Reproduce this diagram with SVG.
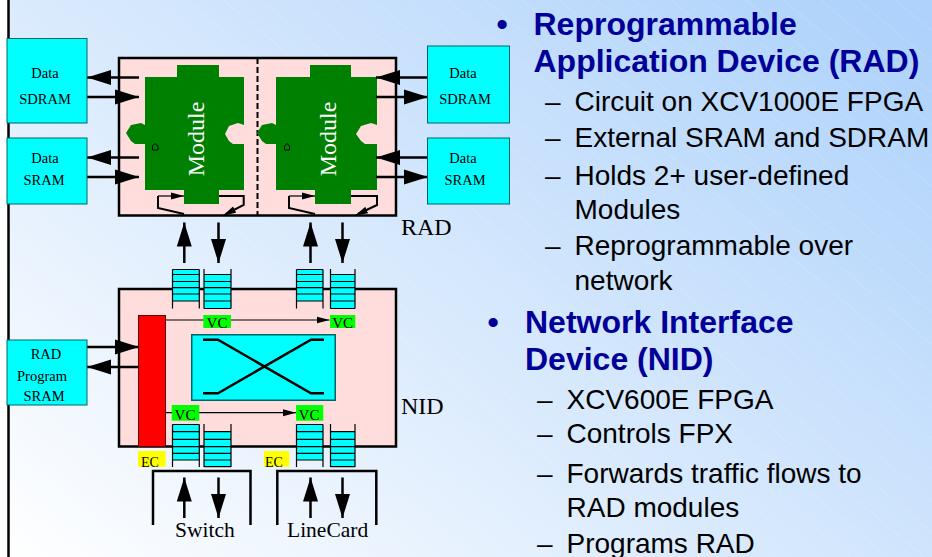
<svg xmlns="http://www.w3.org/2000/svg" width="932" height="557" viewBox="0 0 932 557">
<defs>
<linearGradient id="bg" gradientUnits="userSpaceOnUse" x1="0" y1="557" x2="607" y2="-214"><stop offset="0" stop-color="#ffffff"/><stop offset="1" stop-color="#aed2fb"/></linearGradient>
<pattern id="stripes" patternUnits="userSpaceOnUse" width="24" height="24" patternTransform="rotate(40)"><path d="M0 0H24" stroke="#ffffff" stroke-width="1" opacity="0.22"/></pattern>
<marker id="big" markerUnits="userSpaceOnUse" markerWidth="24" markerHeight="16" refX="24" refY="8" orient="auto"><path d="M0 0.500L24 8L0 15.500Z" fill="#000"/></marker>
<marker id="small" markerUnits="userSpaceOnUse" markerWidth="13" markerHeight="8" refX="13" refY="4" orient="auto"><path d="M0 0.500L13 4L0 7.500Z" fill="#000"/></marker>
</defs>
<style>
.box{fill:#00ffff;stroke:#006666;stroke-width:1}
.lbl{font-family:"Liberation Serif",serif;font-size:14.500px;fill:#000;text-anchor:middle}
.cap{font-family:"Liberation Serif",serif;font-size:24px;fill:#000}
.cap2{font-family:"Liberation Serif",serif;font-size:21.500px;fill:#000}
.tag{font-family:"Liberation Serif",serif;font-size:15px;fill:#000;text-anchor:middle}
.mod{fill:#008000}
.modt{font-family:"Liberation Serif",serif;font-size:24px;fill:#ffffff;text-anchor:middle}
.arr{stroke:#000;stroke-width:2.500;fill:none;marker-end:url(#big)}
.thin{stroke:#000;stroke-width:1.200;fill:none;marker-end:url(#small)}
.ln{stroke:#000;stroke-width:2;fill:none}
.qln{stroke:#000;stroke-width:1.200;fill:none}
.xl{stroke:#000;stroke-width:2.500;fill:none}
.thick{stroke:#000;stroke-width:2.500;fill:none}
.h1{font-family:"Liberation Sans",sans-serif;font-size:32px;font-weight:bold;fill:#000099}
.h2{font-family:"Liberation Sans",sans-serif;font-size:28px;fill:#000000}
.q{fill:#00ffff;stroke:none}
.ic{fill:none;stroke:#000;stroke-width:1}
</style>
<rect width="932" height="557" fill="url(#bg)"/>
<rect width="932" height="557" fill="url(#stripes)"/>
<rect width="8" height="557" fill="#ffffff"/>
<path d="M8.500 0V557" stroke="#000" stroke-width="2.500"/>

<g id="rad">
<rect x="119" y="58" width="277" height="157.500" fill="#ffdddd" stroke="#000" stroke-width="2.500"/>
<path d="M257.500 58V215" stroke="#000" stroke-width="2" stroke-dasharray="6 3"/>
</g>
<g id="module-1">
<path class="mod" d="M177 65H219V77H244V125L238 123L229 126L225 134L229 141L233 144H244V190H219V204H184V190H145V144H135L131 141L126 133L131 125L141 123L145 125V77H177Z"/>
<text class="modt" transform="translate(204 139) rotate(-90)">Module</text>
<path class="ic" d="M152.500 150V146L155 143.500L158 146V150Z"/>
</g>
<g id="module-2">
<path class="mod" d="M310 65H351V77H377V125L371 123L361 126L356 134L361 141L365 144H377V190H351V204H315V190H276V144H266L262 141L257 133L262 125L272 123L276 125V77H310Z"/>
<text class="modt" transform="translate(336 139) rotate(-90)">Module</text>
<path class="ic" d="M284.500 150V146L287 143.500L289.500 146V150Z"/>
</g>
<g id="nid">
<rect x="119" y="289" width="277" height="157.500" fill="#ffdddd" stroke="#000" stroke-width="2.500"/>
</g>
<g id="ec-bar"><rect x="138.500" y="315.500" width="27" height="131" fill="#ff0000" stroke="#660000"/></g>
<g id="crossbar">
<rect x="191.750" y="334.750" width="143.500" height="65.500" fill="#00ffff" stroke="#006666" stroke-width="1.500"/>
<path class="xl" d="M203 339.700H218L311 393.300H324M203 393.300H218L311 339.700H324"/>
</g>

<g id="connectors">
<path class="arr" d="M139 77.500H87"/><path class="arr" d="M87 97H139"/>
<path class="arr" d="M139 157.500H87"/><path class="arr" d="M87 177H139"/>
<path class="arr" d="M428 77.500H376"/><path class="arr" d="M376 97H428"/>
<path class="arr" d="M428 157.500H376"/><path class="arr" d="M376 177H428"/>
<path class="arr" d="M184.300 263V222.500"/><path class="arr" d="M218.500 222.500V263"/>
<path class="arr" d="M310.500 263V222.500"/><path class="arr" d="M342.500 222.500V263"/>
<path class="arr" d="M87 347H139"/><path class="arr" d="M139 367H87"/>
<path class="arr" d="M184.300 518V477.500"/><path class="arr" d="M218.500 477.500V518"/>
<path class="arr" d="M310.500 518V477.500"/><path class="arr" d="M342.500 477.500V518"/>
<path class="thin" d="M165 320H329.500"/>
<path class="thin" d="M165 412.700H296"/>
<path class="ln" d="M184 214L158 208V196"/><path class="thin" d="M158 196H184"/>
<path class="ln" d="M219 196H243.700V205L226 214"/><path class="thin" d="M236 209L223 215.500"/>
<path class="ln" d="M315 214L289 208V196"/><path class="thin" d="M289 196H315"/>
<path class="ln" d="M351 196H377V205L358 214"/><path class="thin" d="M369 209L355 215.500"/>
</g>

<g id="sdram-left"><rect class="box" x="7" y="38.500" width="80" height="84.500"/><text class="lbl" x="45" y="78">Data</text><text class="lbl" x="45" y="104">SDRAM</text></g>
<g id="sram-left"><rect class="box" x="7" y="138" width="80" height="66"/><text class="lbl" x="45" y="163">Data</text><text class="lbl" x="44" y="185">SRAM</text></g>
<g id="sdram-right"><rect class="box" x="427.500" y="46" width="82" height="77"/><text class="lbl" x="463" y="78">Data</text><text class="lbl" x="465" y="104">SDRAM</text></g>
<g id="sram-right"><rect class="box" x="427.500" y="138" width="82" height="66"/><text class="lbl" x="463" y="163">Data</text><text class="lbl" x="465" y="185">SRAM</text></g>
<text class="cap" x="401" y="235">RAD</text>

<g id="queues">
<path class="q" d="M172.500 269.500H199.300V301H172.500Z"/><path class="qln" d="M172.500 269.500H199.300M172.500 274.500H199.300M172.500 281.500H199.300M172.500 287.700H199.300M172.500 294H199.300M172.500 301H199.300M172.500 269.500V308.500M199.300 269.500V308.500"/>
<path class="q" d="M204 274.500H231V308.500H204Z"/><path class="qln" d="M204 269V308.500M231 269V308.500M204 274.500H231M204 281.500H231M204 287.700H231M204 294H231M204 301H231M204 308.500H231"/>
<path class="q" d="M296.500 269.500H323V301H296.500Z"/><path class="qln" d="M296.500 269.500H323M296.500 274.500H323M296.500 281.500H323M296.500 287.700H323M296.500 294H323M296.500 301H323M296.500 269.500V308.500M323 269.500V308.500"/>
<path class="q" d="M330.500 274.500H355V308.500H330.500Z"/><path class="qln" d="M330.500 269V308.500M355 269V308.500M330.500 274.500H355M330.500 281.500H355M330.500 287.700H355M330.500 294H355M330.500 301H355M330.500 308.500H355"/>
<path class="q" d="M172.500 424.500H199.300V460H172.500Z"/><path class="qln" d="M172.500 424.500V467M199.300 424.500V467M172.500 424.500H199.300M172.500 431.700H199.300M172.500 439.300H199.300M172.500 446.700H199.300M172.500 453.300H199.300M172.500 460H199.300"/>
<path class="q" d="M204 431.700H231V466.700H204Z"/><path class="qln" d="M204 424V467M231 424V467M204 431.700H231M204 439.300H231M204 446.700H231M204 453.300H231M204 460H231M204 466.700H231"/>
<path class="q" d="M296.500 424.500H323V460H296.500Z"/><path class="qln" d="M296.500 424.500V467M323 424.500V467M296.500 424.500H323M296.500 431.700H323M296.500 439.300H323M296.500 446.700H323M296.500 453.300H323M296.500 460H323"/>
<path class="q" d="M330.500 431.700H355V466.700H330.500Z"/><path class="qln" d="M330.500 424V467M355 424V467M330.500 431.700H355M330.500 439.300H355M330.500 446.700H355M330.500 453.300H355M330.500 460H355M330.500 466.700H355"/>
</g>
<g id="vc-tags">
<rect x="203.300" y="315" width="27.700" height="13" fill="#00ff00"/><text class="tag" x="217" y="327.500">VC</text>
<rect x="330" y="315" width="25.300" height="13" fill="#00ff00"/><text class="tag" x="342.700" y="327.500">VC</text>
<rect x="171.700" y="405" width="27.600" height="15.700" fill="#00ff00"/><text class="tag" x="185" y="420">VC</text>
<rect x="296" y="405" width="27.300" height="15.700" fill="#00ff00"/><text class="tag" x="309" y="420">VC</text>
</g>
<g id="ec-tags">
<rect x="138" y="451" width="27.700" height="15.700" fill="#ffff00"/><text class="tag" style="font-size:14px" x="150" y="466.500">EC</text>
<rect x="264" y="451" width="25.300" height="15.700" fill="#ffff00"/><text class="tag" style="font-size:14px" x="274" y="466.500">EC</text>
</g>
<g id="program-sram"><rect class="box" x="7" y="340" width="80" height="65"/><text class="lbl" x="46" y="359">RAD</text><text class="lbl" x="42" y="381">Program</text><text class="lbl" x="44" y="401">SRAM</text></g>
<text class="cap" x="401" y="414">NID</text>

<g id="brackets">
<path class="thick" d="M153 525V471H250.500V525M277.300 525V471H376.300V525"/>
</g>
<text class="cap2" x="175" y="537">Switch</text>
<text class="cap2" x="287" y="537">LineCard</text>

<g id="bullets">
<text class="h1" x="496.500" y="35">•</text>
<text class="h1" x="533.500" y="35">Reprogrammable</text>
<text class="h1" x="533.500" y="72">Application Device (RAD)</text>
<text class="h2" x="545" y="111">–</text><text class="h2" x="574.500" y="111">Circuit on XCV1000E FPGA</text>
<text class="h2" x="545" y="147">–</text><text class="h2" x="574.500" y="147">External SRAM and SDRAM</text>
<text class="h2" x="545" y="185">–</text><text class="h2" x="574.500" y="185">Holds 2+ user-defined</text>
<text class="h2" x="574.500" y="219">Modules</text>
<text class="h2" x="545" y="255">–</text><text class="h2" x="574.500" y="255">Reprogrammable over</text>
<text class="h2" x="574.500" y="290">network</text>
<text class="h1" x="487.500" y="333">•</text>
<text class="h1" x="525" y="333">Network Interface</text>
<text class="h1" x="525" y="370">Device (NID)</text>
<text class="h2" x="537" y="409">–</text><text class="h2" x="566.500" y="409">XCV600E FPGA</text>
<text class="h2" x="537" y="443">–</text><text class="h2" x="566.500" y="443">Controls FPX</text>
<text class="h2" x="537" y="483">–</text><text class="h2" x="566.500" y="483">Forwards traffic flows to</text>
<text class="h2" x="566.500" y="517">RAD modules</text>
<text class="h2" x="537" y="553">–</text><text class="h2" x="566.500" y="553">Programs RAD</text>
</g>
</svg>
